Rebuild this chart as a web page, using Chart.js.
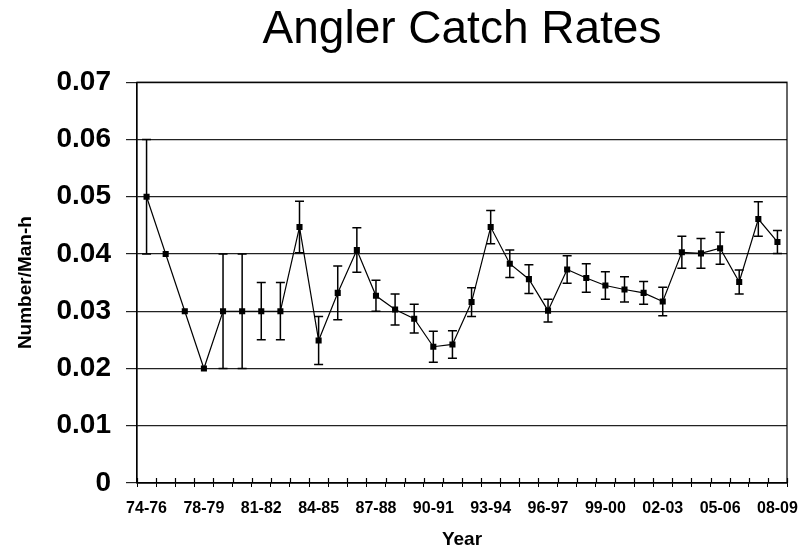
<!DOCTYPE html>
<html lang="en">
<head>
    <meta charset="UTF-8">
    <title>Angler Catch Rates</title>
    <script src="https://cdn.jsdelivr.net/npm/chart.js"></script>
    <style>
        body {
            margin: 0;
            background: white;
        }
        #wrap {
            width: 811px;
            height: 555px;
        }
    </style>
</head>
<body>
    <div id="wrap">
        <canvas id="catchChart" width="811" height="555"></canvas>
    </div>

    <script>
        const years = ['74-76', '76-77', '77-78', '78-79', '79-80', '80-81', '81-82', '82-83', '83-84',
            '84-85', '85-86', '86-87', '87-88', '88-89', '89-90', '90-91', '91-92', '92-93', '93-94',
            '94-95', '95-96', '96-97', '97-98', '98-99', '99-00', '00-01', '01-02', '02-03', '03-04',
            '04-05', '05-06', '06-07', '07-08', '08-09'];

        const catchRate = [0.050, 0.040, 0.030, 0.020, 0.030, 0.030, 0.030, 0.030, 0.0447, 0.0249,
            0.0332, 0.0407, 0.0327, 0.0303, 0.0287, 0.0238, 0.0242, 0.0316, 0.0447, 0.0383,
            0.0356, 0.0301, 0.0373, 0.0358, 0.0345, 0.0338, 0.0332, 0.0317, 0.0403, 0.0401,
            0.0410, 0.0351, 0.0461, 0.0421];

        // +/- half width of each error bar
        const catchError = [0.010, 0, 0, 0, 0.010, 0.010, 0.005, 0.005, 0.0045, 0.0042,
            0.0047, 0.0039, 0.0027, 0.0027, 0.0025, 0.0027, 0.0024, 0.0025, 0.0029, 0.0024,
            0.0025, 0.0020, 0.0024, 0.0025, 0.0024, 0.0022, 0.0020, 0.0025, 0.0028, 0.0026,
            0.0028, 0.0021, 0.0030, 0.0020];

        const yTicks = [0, 0.01, 0.02, 0.03, 0.04, 0.05, 0.06, 0.07];

        const fontName = '"Liberation Sans", Arial, sans-serif';

        // frame, inner tick marks and error bars
        const extras = {
            id: 'extras',
            beforeDatasetsDraw(chart) {
                const { ctx, chartArea: a } = chart;
                const x = chart.scales.x;
                ctx.save();
                ctx.strokeStyle = '#000';
                ctx.lineWidth = 1.2;
                ctx.strokeRect(a.left, a.top, a.right - a.left, a.bottom - a.top);
                const half = (x.getPixelForValue(1) - x.getPixelForValue(0)) / 2;
                ctx.beginPath();
                for (let i = 0; i <= years.length; i++) {
                    const px = Math.round(x.getPixelForValue(i) - half) + 0.5;
                    ctx.moveTo(px, a.bottom);
                    ctx.lineTo(px, a.bottom - 5);
                }
                ctx.stroke();
                ctx.restore();
            },
            afterDatasetsDraw(chart) {
                const { ctx } = chart;
                const x = chart.scales.x;
                const y = chart.scales.y;
                ctx.save();
                ctx.strokeStyle = '#000';
                ctx.lineWidth = 1.5;
                catchRate.forEach((v, i) => {
                    const e = catchError[i];
                    if (!e) return;
                    const px = x.getPixelForValue(i);
                    const top = y.getPixelForValue(v + e);
                    const bot = y.getPixelForValue(v - e);
                    ctx.beginPath();
                    ctx.moveTo(px, top);
                    ctx.lineTo(px, bot);
                    ctx.moveTo(px - 4.5, top);
                    ctx.lineTo(px + 4.5, top);
                    ctx.moveTo(px - 4.5, bot);
                    ctx.lineTo(px + 4.5, bot);
                    ctx.stroke();
                });
                ctx.restore();
            }
        };

        new Chart(document.getElementById('catchChart'), {
            type: 'line',
            data: {
                labels: years,
                datasets: [{
                    data: catchRate,
                    borderColor: '#000',
                    borderWidth: 1.2,
                    backgroundColor: '#000',
                    pointStyle: 'rect',
                    pointRadius: 4.3,
                    pointBorderWidth: 0,
                    tension: 0
                }]
            },
            options: {
                responsive: false,
                animation: false,
                layout: { padding: { left: 0, right: 24, top: 0, bottom: 0 } },
                plugins: {
                    legend: { display: false },
                    tooltip: { enabled: false },
                    title: {
                        display: true,
                        text: 'Angler Catch Rates',
                        color: '#000',
                        fullSize: false,
                        font: { family: fontName, size: 46, weight: 'normal' },
                        padding: { top: 3, bottom: 24 }
                    }
                },
                scales: {
                    x: {
                        offset: true,
                        afterFit: s => { s.height = 72; },
                        grid: {
                            offset: true,
                            drawOnChartArea: false,
                            tickLength: 4,
                            color: '#000',
                            lineWidth: 1
                        },
                        border: { color: '#000', width: 1.2 },
                        ticks: {
                            autoSkip: false,
                            maxRotation: 0,
                            color: '#000',
                            padding: 12,
                            font: { family: fontName, size: 16, weight: 'bold' },
                            callback: (val, i) => (i % 3 === 0 ? years[i] : '')
                        },
                        title: {
                            display: true,
                            text: 'Year',
                            color: '#000',
                            font: { family: fontName, size: 19, weight: 'bold' },
                            padding: { top: 0, bottom: 4 }
                        }
                    },
                    y: {
                        min: 0,
                        max: 0.07,
                        afterFit: s => { s.width = 137; },
                        afterBuildTicks: s => { s.ticks = yTicks.map(v => ({ value: v })); },
                        grid: {
                            color: '#222',
                            lineWidth: 1.2,
                            tickLength: 11
                        },
                        border: { color: '#000', width: 1.2 },
                        ticks: {
                            color: '#000',
                            padding: 15,
                            font: { family: fontName, size: 28, weight: 'bold' },
                            callback: v => (v === 0 ? '0' : v.toFixed(2))
                        },
                        title: {
                            display: true,
                            text: 'Number/Man-h',
                            color: '#000',
                            font: { family: fontName, size: 19, weight: 'bold' },
                            padding: { top: 14, bottom: 0 }
                        }
                    }
                }
            },
            plugins: [extras]
        });
    </script>
</body>
</html>
